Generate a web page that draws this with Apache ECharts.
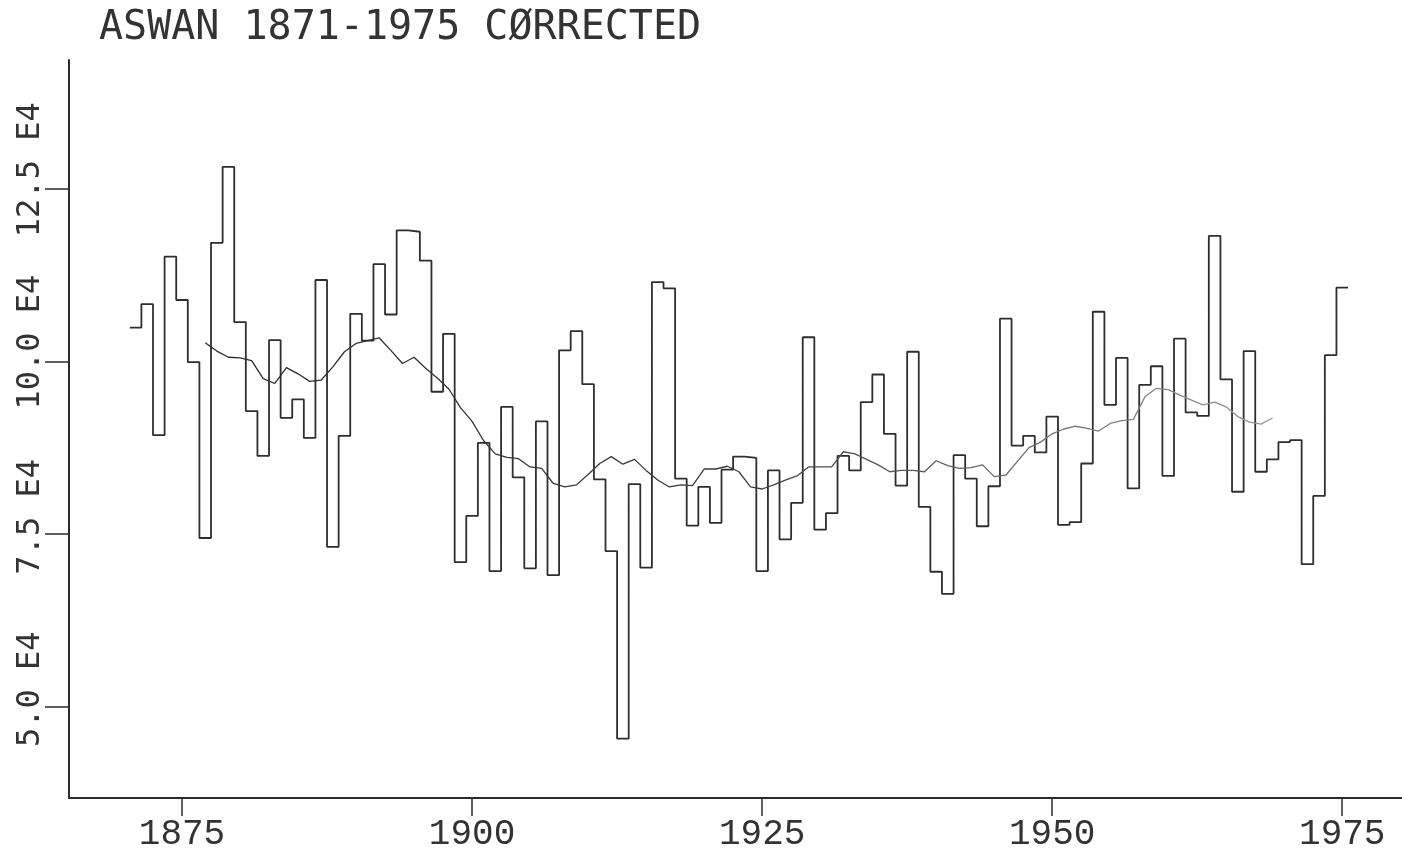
<!DOCTYPE html>
<html>
<head>
<meta charset="utf-8">
<title>Aswan 1871-1975</title>
<script src="https://cdn.jsdelivr.net/npm/echarts@6/dist/echarts.min.js"></script>
<style>
html, body { margin: 0; padding: 0; background: #fff; }
#chart { width: 1402px; height: 852px; }
</style>
</head>
<body>
<div id="chart"></div>
<script>
// annual flow, one value per year from 1871 (units of E4)
var firstYear = 1871;
var flow = [
	10.49, 10.83, 8.93, 11.52, 10.89, 9.99, 7.44, 11.72, 12.82, 10.57,
	9.28, 8.63, 10.31, 9.18, 9.45, 8.89, 11.18, 7.31, 8.92, 10.69,
	10.30, 11.41, 10.68, 11.90, 11.88, 11.46, 9.56, 10.40, 7.09, 7.76,
	8.82, 6.96, 9.34, 8.32, 7.00, 9.13, 6.90, 10.16, 10.44, 9.67,
	8.29, 7.25, 4.53, 8.22, 7.01, 11.15, 11.06, 8.30, 7.62, 8.18,
	7.66, 8.43, 8.62, 8.60, 6.96, 8.42, 7.42, 7.95, 10.35, 7.56,
	7.80, 8.63, 8.42, 9.41, 9.81, 8.95, 8.20, 10.14, 7.89, 6.95,
	6.63, 8.64, 8.30, 7.61, 8.19, 10.62, 8.78, 8.92, 8.68, 9.20,
	7.63, 7.67, 8.52, 10.72, 9.37, 10.05, 8.16, 9.66, 9.93, 8.34,
	10.33, 9.26, 9.21, 11.82, 9.74, 8.11, 10.15, 8.40, 8.58, 8.83,
	8.86, 7.06, 8.05, 10.09, 11.07
];

// smoothed curve, one value per year from 1877
var smoothStart = 1877;
var smooth = [
	10.27, 10.15, 10.06, 10.05, 10.01, 9.75, 9.68, 9.91, 9.82, 9.71,
	9.73, 9.92, 10.14, 10.26, 10.30, 10.34, 10.16, 9.97, 10.06, 9.90,
	9.76, 9.60, 9.33, 9.13, 8.85, 8.66, 8.61, 8.59, 8.47, 8.45,
	8.23, 8.18, 8.21, 8.36, 8.52, 8.62, 8.51, 8.58, 8.42, 8.28,
	8.18, 8.21, 8.20, 8.44, 8.44, 8.48, 8.40, 8.18, 8.15, 8.21,
	8.28, 8.34, 8.47, 8.47, 8.47, 8.69, 8.66, 8.58, 8.50, 8.40,
	8.42, 8.42, 8.40, 8.56, 8.49, 8.45, 8.46, 8.50, 8.33, 8.35,
	8.55, 8.75, 8.83, 8.95, 9.02, 9.06, 9.03, 8.99, 9.10, 9.14,
	9.16, 9.49, 9.61, 9.59, 9.51, 9.44, 9.37, 9.41, 9.34, 9.20,
	9.12, 9.09, 9.18
];

var yearTicks = [1875, 1900, 1925, 1950, 1975];
var flowTicks = [5.0, 7.5, 10.0, 12.5];

var ink = '#2b2b2b';
var chart = echarts.init(document.getElementById('chart'));

// each year is drawn as a flat step from year-0.5 to year+0.5
var stepData = [];
for (var i = 0; i < flow.length; i++) {
	stepData.push([firstYear + i - 0.5, flow[i]]);
}
stepData.push([firstYear + flow.length - 0.5, flow[flow.length - 1]]);

var smoothData = [];
for (var j = 0; j < smooth.length; j++) {
	smoothData.push([smoothStart + j, smooth[j]]);
}

var option = {
	animation: false,
	backgroundColor: '#ffffff',
	title: {
		text: 'ASWAN 1871-1975 CØRRECTED',
		left: 99,
		top: 9,
		padding: 0,
		textStyle: {
			fontFamily: 'DejaVu Sans Mono',
			fontSize: 40,
			fontWeight: 'normal',
			color: '#333'
		}
	},
	grid: { left: 69, right: 0, top: 60, bottom: 54 },
	xAxis: {
		type: 'value',
		min: 1865.26,
		max: 1980.15,
		splitLine: { show: false },
		axisLine: { lineStyle: { color: ink, width: 2 } },
		axisTick: { customValues: yearTicks, length: 18, lineStyle: { color: ink, width: 1.5 } },
		axisLabel: {
			customValues: yearTicks,
			margin: 18,
			fontFamily: 'Liberation Mono',
			fontSize: 36,
			color: '#333',
			formatter: function(v) { return String(v); }
		}
	},
	yAxis: {
		type: 'value',
		min: 3.67,
		max: 14.37,
		splitLine: { show: false },
		axisLine: { show: true, lineStyle: { color: ink, width: 2 } },
		axisTick: { show: true, customValues: flowTicks, length: 24, lineStyle: { color: ink, width: 1.5 } },
		axisLabel: {
			customValues: flowTicks,
			rotate: 90,
			margin: 22,
			align: 'center',
			verticalAlign: 'bottom',
			color: '#333',
			fontFamily: 'DejaVu Sans Mono',
			fontSize: 32,
			// the decimal point sits near the tick
			formatter: function(v) {
				var txt = v.toFixed(1) + ' E4';
				return v >= 10 ? '{l|' + txt + '}' : '{s|' + txt + '}';
			},
			rich: {
				s: { fontFamily: 'DejaVu Sans Mono', fontSize: 32, color: '#333', padding: [0, 0, 0, 34] },
				l: { fontFamily: 'DejaVu Sans Mono', fontSize: 32, color: '#333', padding: [0, 0, 0, 38.5] }
			}
		}
	},
	series: [
		{
			name: 'flow',
			type: 'line',
			step: 'end',
			data: stepData,
			symbol: 'none',
			lineStyle: { color: '#2e2e2e', width: 1.8 }
		},
		{
			name: 'smoothed',
			type: 'line',
			data: smoothData,
			symbol: 'none',
			lineStyle: {
				width: 1.3,
				color: new echarts.graphic.LinearGradient(0, 0, 1, 0, [
					{ offset: 0, color: '#2a2a2a' },
					{ offset: 0.5, color: '#3c3c3c' },
					{ offset: 1, color: '#9a9a9a' }
				])
			}
		}
	]
};
chart.setOption(option);
</script>
</body>
</html>
